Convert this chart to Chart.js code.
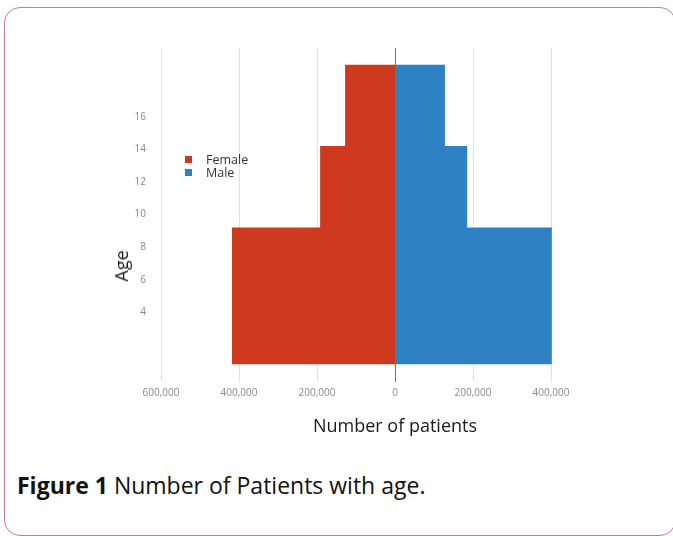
<!DOCTYPE html>
<html>
<head>
<meta charset="utf-8">
<script src="https://cdn.jsdelivr.net/npm/chart.js@4/dist/chart.umd.min.js"></script>
<style>
  html, body { margin: 0; padding: 0; background: #fff; }
  body { width: 673px; height: 536px; position: relative; overflow: hidden; }
  .frame {
    position: absolute; left: 4px; top: 7px; width: 672px; height: 529px;
    box-sizing: border-box; border: 1.5px solid #c27ba3; border-radius: 16px;
  }
  .chart-wrap { position: absolute; left: 0; top: 0; width: 673px; height: 450px; }
  .age-title {
    position: absolute; left: 121px; top: 266px;
    transform: translate(-50%, -50%) rotate(-90deg);
    font: 18px "Open Sans", sans-serif; color: #1a1a1a;
  }
  .legend { position: absolute; left: 185px; top: 153px; font: 12.5px "Open Sans", sans-serif; color: #333; }
  .legend div { display: flex; align-items: center; height: 13px; }
  .legend span.sw { width: 7px; height: 7px; margin-right: 14px; }
  .caption {
    position: absolute; left: 17px; top: 469px;
    font: 23px "Open Sans", sans-serif; color: #111; white-space: nowrap;
  }
</style>
</head>
<body>
<div class="frame"></div>
<div class="chart-wrap"><canvas id="pyramid"></canvas></div>
<div class="age-title">Age</div>
<div class="legend" id="legend"></div>
<div class="caption"><b>Figure 1</b> Number of Patients with age.</div>

<script>
// ── Data ───────────────────────────────────────────────────────────────────
const ageEdges     = [0.8, 9.2, 14.2, 19.2];       // band boundaries (age)
const femaleCounts = [418000, 192000, 128000];     // per band
const maleCounts   = [402000, 185000, 128000];
const xTicks       = [-600000, -400000, -200000, 0, 200000, 400000];
const yTicks       = [4, 6, 8, 10, 12, 14, 16];
const seriesNames  = ['Female', 'Male'];
const seriesColors = ['#cf3a1f', '#2e81c2'];

// step outline of each side, filled back to x = 0
function stepPoints(counts, sign) {
  const pts = [];
  counts.forEach((c, i) => {
    pts.push({ x: sign * c, y: ageEdges[i] });
    pts.push({ x: sign * c, y: ageEdges[i + 1] });
  });
  return pts;
}

const ctx = document.getElementById('pyramid').getContext('2d');
const chart = new Chart(ctx, {
  type: 'line',
  data: {
    datasets: [
      { label: seriesNames[0], data: stepPoints(femaleCounts, -1), backgroundColor: seriesColors[0] },
      { label: seriesNames[1], data: stepPoints(maleCounts, 1),   backgroundColor: seriesColors[1] },
    ].map(d => ({ ...d, fill: 'origin', borderWidth: 0, pointRadius: 0, tension: 0 }))
  },
  options: {
    indexAxis: 'y',
    responsive: true,
    maintainAspectRatio: false,
    animation: false,
    layout: { padding: { left: 0, top: 48, right: 44, bottom: 0 } },
    plugins: { legend: { display: false }, tooltip: { enabled: false } },
    scales: {
      x: {
        type: 'linear',
        min: -600000, max: 600000,
        z: 1,
        afterBuildTicks: s => { s.ticks = xTicks.map(v => ({ value: v })); },
        afterFit: s => { s.height = 68; },
        border: { display: false },
        grid: {
          drawTicks: false,
          lineWidth: 1,
          color: c => c.tick && c.tick.value === 0 ? 'rgba(0,0,0,0.55)' : 'rgba(0,0,0,0.12)'
        },
        ticks: {
          padding: 5,
          color: '#888',
          font: { family: 'Open Sans', size: 10 },
          callback: v => Math.abs(v).toLocaleString('en-US')
        },
        title: {
          display: true,
          text: 'Number of patients',
          color: '#1a1a1a',
          font: { family: 'Open Sans', size: 18 },
          padding: { top: 4, bottom: 12 }
        }
      },
      y: {
        type: 'linear',
        min: -0.27, max: 20.21,
        afterBuildTicks: s => { s.ticks = yTicks.map(v => ({ value: v })); },
        afterFit: s => { s.width = 161; },
        border: { display: false },
        grid: { display: false, drawTicks: false },
        ticks: {
          padding: 15,
          color: '#888',
          font: { family: 'Open Sans', size: 10 }
        }
      }
    }
  }
});

// ── Legend (HTML) ──────────────────────────────────────────────────────────
const legendEl = document.getElementById('legend');
chart.data.datasets.forEach(ds => {
  const row = document.createElement('div');
  const sw = document.createElement('span');
  sw.className = 'sw';
  sw.style.background = ds.backgroundColor;
  row.appendChild(sw);
  row.appendChild(document.createTextNode(ds.label));
  legendEl.appendChild(row);
});
</script>
</body>
</html>
